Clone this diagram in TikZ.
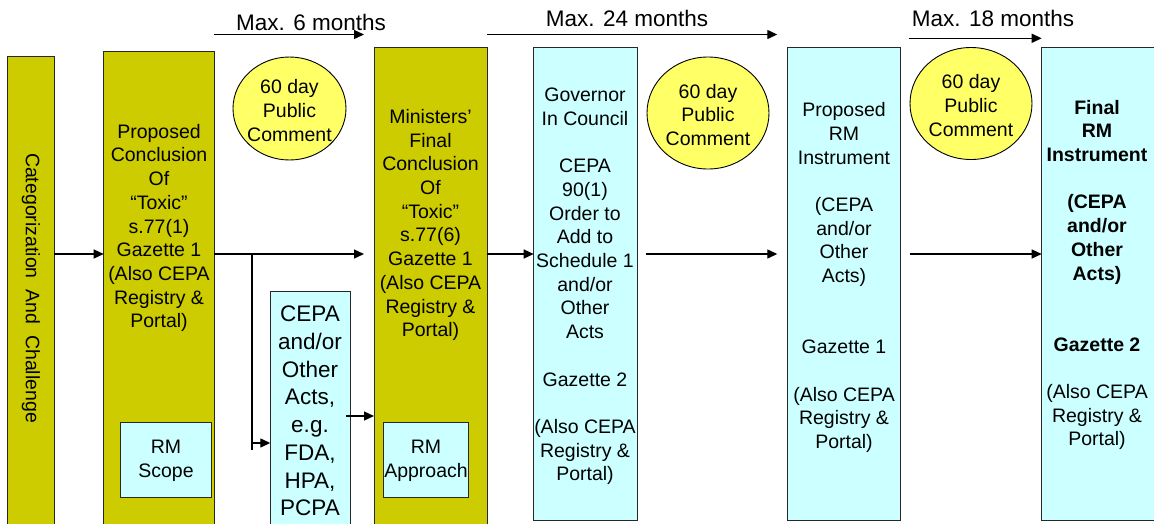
\documentclass[tikz,border=0pt]{standalone}
\usepackage{fontspec}
\setmainfont{Liberation Sans}
\usetikzlibrary{arrows.meta,shapes.geometric}
\definecolor{olivefill}{RGB}{204,204,0}
\definecolor{cyanfill}{RGB}{204,255,255}
\definecolor{ellfill}{RGB}{255,255,102}
\definecolor{edge}{RGB}{40,40,40}
\begin{document}
\begin{tikzpicture}[x=1pt,y=-1pt,
  box/.style={draw=edge,line width=1pt,anchor=north west,inner sep=0pt,outer sep=0pt},
  olivebox/.style={box,fill=olivefill},
  cyanbox/.style={box,fill=cyanfill},
  txt/.style={align=center,inner sep=0pt,font=\fontsize{19.5}{23.7}\selectfont},
  bigtxt/.style={align=center,inner sep=0pt,font=\fontsize{22.5}{27.7}\selectfont},
  timetxt/.style={inner sep=0pt,font=\fontsize{22.5}{27}\selectfont},
  bubble/.style={ellipse,draw=black,line width=0.9pt,fill=ellfill,inner sep=0pt,outer sep=0pt},
  arr/.style={line width=1.3pt,-{Triangle[length=10pt,width=9pt]}},
  link/.style={line width=1.3pt}]
\useasboundingbox (0,0) rectangle (1154,523);
\clip (0,0) rectangle (1154,523);

% boxes
\node[olivebox,minimum width=46.8pt,minimum height=472pt] (cat) at (7.5,56.7) {};
\node[olivebox,minimum width=110.3pt,minimum height=477pt] (prop) at (103.7,51.7) {};
\node[cyanbox,minimum width=91.7pt,minimum height=74.7pt] (scope) at (120,422.3) {};
\node[cyanbox,minimum width=80pt,minimum height=237pt] (cepa) at (270.3,291) {};
\node[olivebox,minimum width=113.3pt,minimum height=481pt] (mini) at (374,47.7) {};
\node[cyanbox,minimum width=85pt,minimum height=74.7pt] (appr) at (383.3,422.3) {};
\node[cyanbox,minimum width=103.6pt,minimum height=472.8pt] (gov) at (533.7,47.7) {};
\node[cyanbox,minimum width=113.4pt,minimum height=472.8pt] (prm) at (787.3,47.7) {};
\node[cyanbox,minimum width=116pt,minimum height=472.8pt] (fin) at (1041.7,47.7) {};

% bubbles
\node[bubble,minimum width=113pt,minimum height=103pt] (e1) at (289.5,108.5) {};
\node[bubble,minimum width=122pt,minimum height=112pt] (e2) at (708,113) {};
\node[bubble,minimum width=122pt,minimum height=112pt] (e3) at (971,103.5) {};
\node[txt,yshift=-2pt] (e1t) at (e1) {60 day\\Public\\Comment};
\node[txt,yshift=-2pt] (e2t) at (e2) {60 day\\Public\\Comment};
\node[txt,yshift=-2pt] (e3t) at (e3) {60 day\\Public\\Comment};

% texts
\node[txt,rotate=-90] (cattxt) at (31,288) {Categorization\ \ And\ \ Challenge};
\node[txt] (proptxt) at (159,228) {Proposed\\Conclusion\\Of\\“Toxic”\\s.77(1)\\Gazette 1\\(Also CEPA\\Registry \&\\Portal)};
\node[txt] (scopetxt) at (166,461) {RM\\Scope};
\node[bigtxt] (cepatxt) at (310,411) {CEPA\\and/or\\Other\\Acts,\\e.g.\\FDA,\\HPA,\\PCPA};
\node[txt] (minitxt) at (430.5,225) {Ministers’\\Final\\Conclusion\\Of\\“Toxic”\\s.77(6)\\Gazette 1\\(Also CEPA\\Registry \&\\Portal)};
\node[txt] (apprtxt) at (426,461) {RM\\Approach};
\node[txt] (govtxt) at (585,286.5) {Governor\\In Council\\[23.7pt]CEPA\\90(1)\\Order to\\Add to\\Schedule 1\\and/or\\Other\\Acts\\[23.7pt]Gazette 2\\[23.7pt](Also CEPA\\Registry \&\\Portal)};
\node[txt] (prmtxt) at (844,277.5) {Proposed\\RM\\Instrument\\[23.7pt](CEPA\\and/or\\Other\\Acts)\\[47.4pt]Gazette 1\\[23.7pt](Also CEPA\\Registry \&\\Portal)};
\node[txt] (fintxt) at (1097,275) {\textbf{Final}\\\textbf{RM}\\\textbf{Instrument}\\[23.7pt]\textbf{(CEPA}\\\textbf{and/or}\\\textbf{Other}\\\textbf{Acts)}\\[47.4pt]\textbf{Gazette 2}\\[23.7pt](Also CEPA\\Registry \&\\Portal)};

% time labels
\node[timetxt] (l1) at (311,22.7) {Max. 6 months};
\node[timetxt] (l2) at (627,18) {Max. 24 months};
\node[timetxt] (l3) at (993,18) {Max. 18 months};

% helper coordinates
\coordinate (m) at (0,254);
\coordinate (t1) at (0,34.5);
\coordinate (t3) at (0,38.3);
\coordinate (c1) at (0,443);
\coordinate (c2) at (0,416);
\coordinate (br) at (252,254);
\coordinate (brend) at (252,450);

% time arrows
\draw[arr] (prop.east |- t1) -- ([xshift=-10pt]mini.west |- t1);
\draw[arr] (mini.east |- t1) -- ([xshift=-10pt]prm.west |- t1);
\draw[arr] ([xshift=8pt]prm.east |- t3) -- (fin.west |- t3);

% flow arrows
\draw[arr] (cat.east |- m) -- (prop.west |- m);
\draw[arr,shorten >=10pt] (prop.east |- m) -- (mini.west |- m);
\draw[arr] (mini.east |- m) -- (gov.west |- m);
\draw[arr,shorten <=9pt,shorten >=10pt] (gov.east |- m) -- (prm.west |- m);
\draw[arr,shorten <=9pt] (prm.east |- m) -- (fin.west |- m);
\draw[link] (br) -- (brend);
\draw[arr] (br |- c1) -- (cepa.west |- c1);
\draw[arr,shorten <=-4pt] (cepa.east |- c2) -- (mini.west |- c2);
\end{tikzpicture}
\end{document}
